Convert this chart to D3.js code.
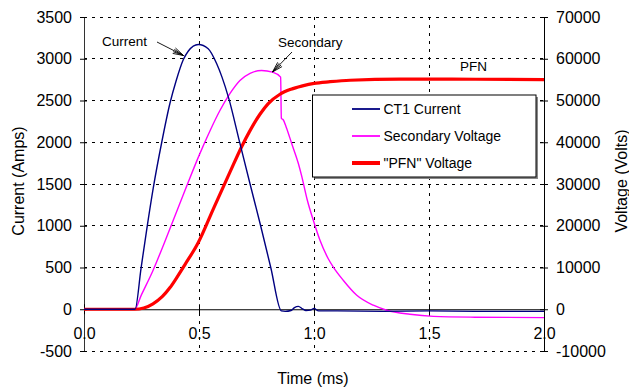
<!DOCTYPE html>
<html><head><meta charset="utf-8">
<script src="https://cdn.jsdelivr.net/npm/d3@7"></script>
<style>
body{margin:0;background:#fff;}
text{font-family:"Liberation Sans",Arial,sans-serif;fill:#000;}
</style></head>
<body><svg id="c" width="629" height="387"></svg>
<script>
// ---- data ----
const currentT = [0,0.22,0.222,0.248,0.273,0.301,0.338,0.374,0.40,0.432,0.453,0.497,0.54,0.577,0.60,0.63,0.675,0.722,0.768,0.812,0.858,0.875,0.9,0.915,0.932,0.95,0.965,0.985,1.0,1.02,1.1,1.3,1.5,1.7,2.0];
const currentA = [0,0,0,490,960,1450,2000,2470,2730,2990,3090,3170,3120,2940,2780,2520,2020,1500,1000,500,-20,-25,-15,20,35,5,-15,-10,10,-20,-20,-25,-20,-25,-25];

const secT = [0,0.22,0.25,0.30,0.35,0.40,0.45,0.50,0.55,0.591,0.635,0.678,0.722,0.772,0.82,0.855,0.858,0.866,0.88,0.903,0.932,0.946,0.971,0.997,1.026,1.062,1.084,1.127,1.186,1.258,1.316,1.417,1.519,1.7,2.0];
const secV = [0,0,3500,9300,16000,23000,30000,36800,43000,47600,51700,54800,56500,57200,56800,55600,45700,45400,43500,39700,34900,32000,26100,21300,16500,12100,10100,6950,3350,960,-240,-1200,-1700,-1900,-2000];

const pfnT = [0,0.22,0.26,0.30,0.34,0.374,0.40,0.439,0.497,0.562,0.635,0.686,0.72,0.765,0.80,0.852,0.90,0.95,1.0,1.07,1.157,1.374,1.6,2.0];
const pfnV = [0,0,300,1300,3000,5200,7300,10700,16000,24000,32900,39000,42600,46700,49200,51500,52700,53500,54100,54500,54850,55100,55100,55000];

const xTicks = [0,0.5,1.0,1.5,2.0];
const xTickLabels = ["0.0","0.5","1.0","1.5","2.0"];
const leftTicks = [-500,0,500,1000,1500,2000,2500,3000,3500];
const rightTicks = [-10000,0,10000,20000,30000,40000,50000,60000,70000];
const legendLabels = ["CT1 Current","Secondary Voltage","\"PFN\" Voltage"];
const annotations = ["Current","Secondary","PFN"];

// ---- layout ----
const L=84, R=544, T=17, B=351;
const svg = d3.select("#c");
const x = d3.scaleLinear().domain([0,2]).range([L,R]);
const yL = d3.scaleLinear().domain([-500,3500]).range([B,T]);
const yR = d3.scaleLinear().domain([-10000,70000]).range([B,T]);
const fmt = d => String(d);

// gridlines
const grid = svg.append("g");
grid.selectAll("line.h").data(leftTicks.filter(d=>d!==0)).join("line")
  .attr("x1",L).attr("x2",R).attr("y1",d=>yL(d)).attr("y2",d=>yL(d))
  .attr("stroke","#000").attr("stroke-width",1).attr("stroke-dasharray","3,5").attr("shape-rendering","crispEdges");
grid.selectAll("line.v").data([0.5,1.0,1.5]).join("line")
  .attr("x1",d=>x(d)).attr("x2",d=>x(d)).attr("y1",T).attr("y2",B)
  .attr("stroke","#000").attr("stroke-width",1).attr("stroke-dasharray","3,5").attr("shape-rendering","crispEdges");

// axes
const ff = g=>g.selectAll("text").style("font-family","'Liberation Sans',Arial,sans-serif").style("font-size","16px").attr("fill","#000");
const gl = svg.append("g").attr("transform",`translate(${L},0)`)
  .call(d3.axisLeft(yL).tickValues(leftTicks).tickSizeInner(4).tickSizeOuter(0).tickPadding(8).tickFormat(fmt));
gl.call(ff); gl.select(".domain").attr("stroke","#333");
gl.selectAll(".tick line").attr("stroke","#000").attr("x2",-4).attr("x1",3);

const gr = svg.append("g").attr("transform",`translate(${R},0)`)
  .call(d3.axisRight(yR).tickValues(rightTicks).tickSizeInner(4).tickSizeOuter(0).tickPadding(8).tickFormat(fmt));
gr.call(ff); gr.select(".domain").attr("stroke","#000");
gr.selectAll(".tick line").attr("stroke","#000").attr("x2",4).attr("x1",-4);

const gx = svg.append("g").attr("transform",`translate(0,${yL(0)})`)
  .call(d3.axisBottom(x).tickValues(xTicks).tickSizeInner(5).tickSizeOuter(0).tickPadding(13).tickFormat((d,i)=>xTickLabels[i]));
gx.call(ff); gx.select(".domain").attr("stroke","#000");
gx.selectAll(".tick line").attr("stroke","#000").attr("y1",-5).attr("y2",5);

// axis titles
svg.append("text").attr("transform","translate(24,181) rotate(-90)").attr("text-anchor","middle")
  .style("font-size","16px").text("Current (Amps)");
svg.append("text").attr("transform","translate(627,181) rotate(-90)").attr("text-anchor","middle")
  .style("font-size","16px").text("Voltage (Volts)");
svg.append("text").attr("x",313).attr("y",384).attr("text-anchor","middle")
  .style("font-size","16px").text("Time (ms)");

// series
const lineL = d3.line().x(d=>x(d[0])).y(d=>yL(d[1])).curve(d3.curveMonotoneX);
const lineR = d3.line().x(d=>x(d[0])).y(d=>yR(d[1])).curve(d3.curveMonotoneX);
svg.append("path").attr("d",lineR(d3.zip(secT,secV))).attr("fill","none").attr("stroke","#FF00FF").attr("stroke-width",1.4);
svg.append("path").attr("d",lineR(d3.zip(pfnT,pfnV))).attr("fill","none").attr("stroke","#FF0000").attr("stroke-width",3.2);
svg.append("path").attr("d",lineL(d3.zip(currentT,currentA))).attr("fill","none").attr("stroke","#000080").attr("stroke-width",1.4);

// annotations
function arrow(x1,y1,x2,y2){
  const g=svg.append("g").attr("stroke","#000").attr("stroke-width",0.9);
  g.append("line").attr("x1",x1).attr("y1",y1).attr("x2",x2).attr("y2",y2);
  const a=Math.atan2(y2-y1,x2-x1), len=11;
  [-0.28,-0.12,0.12,0.28].forEach(s=>{
    g.append("line").attr("x1",x2).attr("y1",y2)
      .attr("x2",x2-len*Math.cos(a+s)).attr("y2",y2-len*Math.sin(a+s));
  });
}
svg.append("text").attr("x",102).attr("y",45.5).style("font-size","13.5px").text(annotations[0]);
arrow(157,42,183.5,55.5);
svg.append("text").attr("x",278).attr("y",46.5).style("font-size","13.5px").text(annotations[1]);
arrow(292,52,272.5,72);
svg.append("text").attr("x",460).attr("y",71).style("font-size","13.5px").text(annotations[2]);

// legend
const lg = svg.append("g");
lg.append("rect").attr("x",314.5).attr("y",97).attr("width",223.5).attr("height",82).attr("fill","#888");
lg.append("rect").attr("x",312.5).attr("y",95).attr("width",223.5).attr("height",82).attr("fill","#fff").attr("stroke","#000").attr("stroke-width",1);
const legColors=["#000080","#FF00FF","#FF0000"], legW=[1.8,1.8,4], legY=[109,136,163];
legendLabels.forEach((t,i)=>{
  lg.append("line").attr("x1",352).attr("x2",380).attr("y1",legY[i]).attr("y2",legY[i]).attr("stroke",legColors[i]).attr("stroke-width",legW[i]);
  lg.append("text").attr("x",383.5).attr("y",legY[i]+5).style("font-size","14px").text(t);
});
</script></body></html>
